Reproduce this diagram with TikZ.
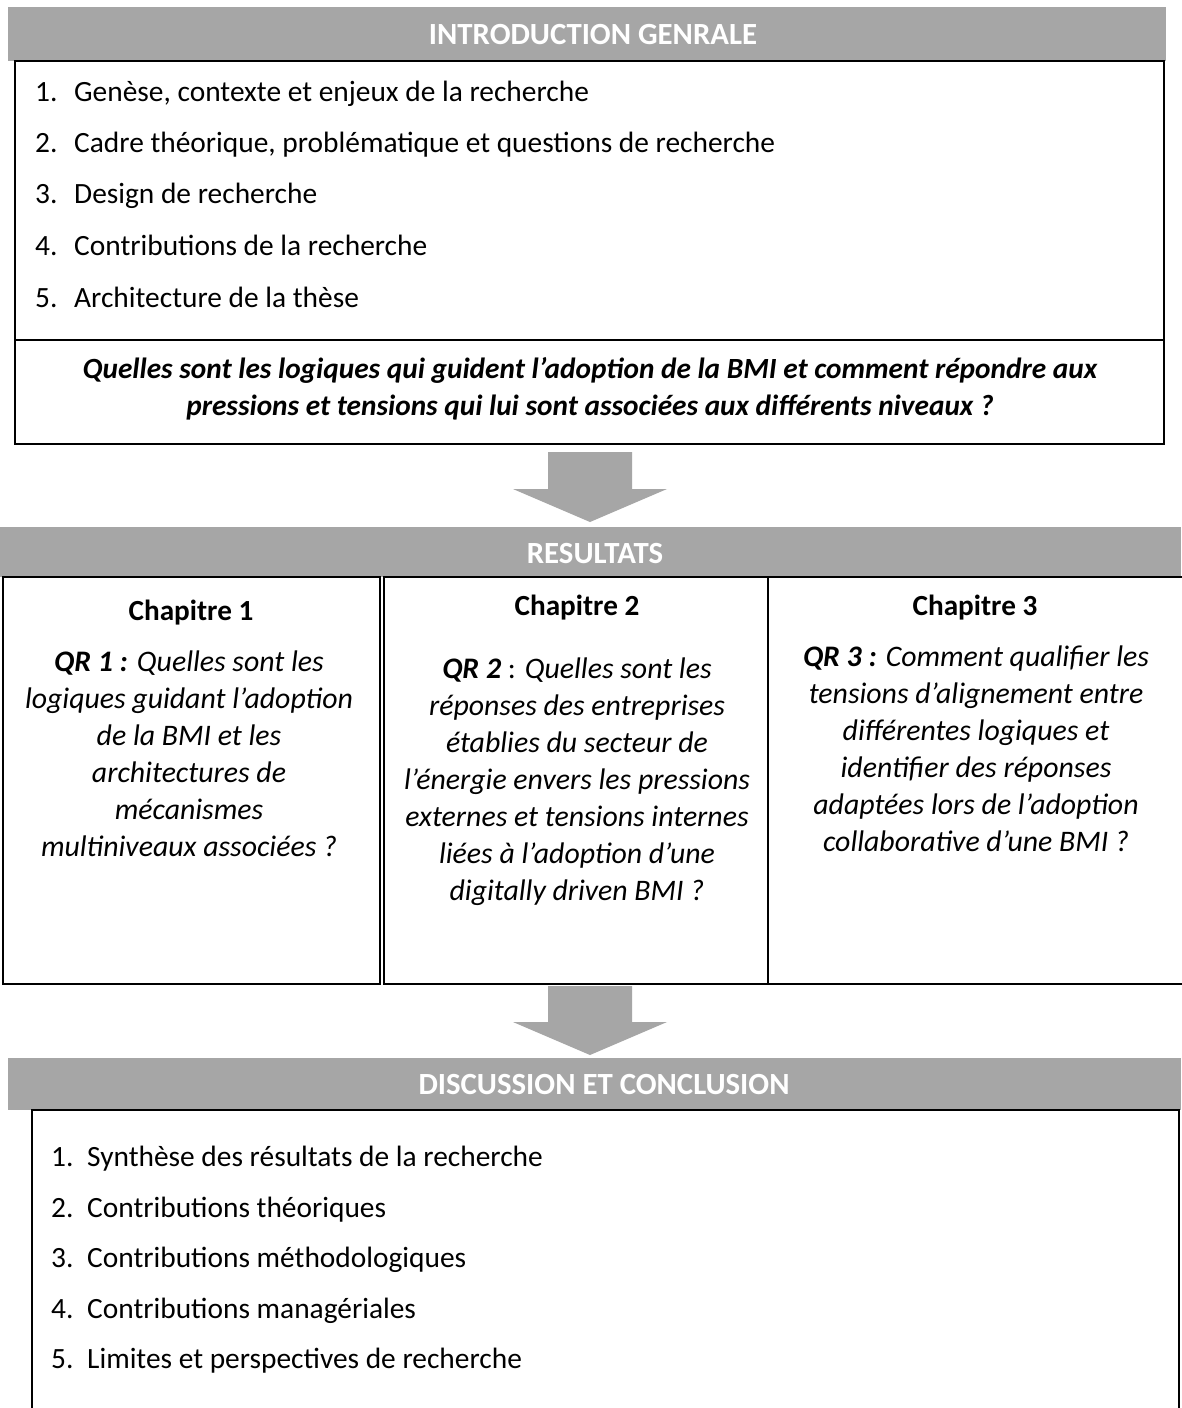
\documentclass[tikz,border=0pt]{standalone}
\usepackage{fontspec}
\setmainfont{Carlito}
\definecolor{bandgray}{HTML}{A6A6A6}
\begin{document}
\begin{tikzpicture}[x=1pt,y=-1pt,
  band/.style={fill=bandgray,draw=none},
  frame/.style={draw=black,line width=2.5pt},
  thinframe/.style={draw=black,line width=2pt},
  blockarrow/.style={fill=bandgray,draw=none},
  hdr/.style={anchor=base,inner sep=0pt,text=white,font=\fontsize{30.8}{36}\selectfont\bfseries},
  item/.style={anchor=base west,inner sep=0pt,font=\fontsize{29.4}{35}\selectfont},
  qline/.style={anchor=base,inner sep=0pt,font=\fontsize{29.3}{35}\selectfont\bfseries\itshape},
  cline/.style={anchor=base,inner sep=0pt,font=\fontsize{29.8}{35}\selectfont\itshape},
  chap/.style={anchor=base,inner sep=0pt,font=\fontsize{29.2}{35}\selectfont\bfseries}]
\useasboundingbox (0,0) rectangle (1181,1408);
\fill[white] (0,0) rectangle (1181,1408);
% ---------- Introduction ----------
\fill[band] (8,7) rectangle (1166,61);
\node[hdr] (h1) at (593,44) {INTRODUCTION GENRALE};
\draw[frame] (15,61) rectangle (1164,444);
\draw[frame] (15,340) -- (1164,340);
\node[item] (i1) at (35,101) {\makebox[39pt][l]{1.}Genèse, contexte et enjeux de la recherche};
\node[item] (i2) at (35,152) {\makebox[39pt][l]{2.}Cadre théorique, problématique et questions de recherche};
\node[item] (i3) at (35,203) {\makebox[39pt][l]{3.}Design de recherche};
\node[item] (i4) at (35,255) {\makebox[39pt][l]{4.}Contributions de la recherche};
\node[item] (i5) at (35,307) {\makebox[39pt][l]{5.}Architecture de la thèse};
\node[qline] (q1) at (590,378) {Quelles sont les logiques qui guident l’adoption de la BMI et comment répondre aux};
\node[qline] (q2) at (590,415) {pressions et tensions qui lui sont associées aux différents niveaux ?};
% ---------- Arrow 1 ----------
\fill[blockarrow] (548,452) -- (632,452) -- (632,489) -- (667,489) -- (590,522) -- (513,489) -- (548,489) -- cycle;
% ---------- Resultats ----------
\fill[band] (0,527) rectangle (1181,577);
\node[hdr] (h2) at (595,563) {RESULTATS};
\draw[thinframe] (3,577) rectangle (380,984);
\draw[thinframe] (384,577) rectangle (768,984);
\draw[thinframe] (768,577) rectangle (1190,984);
\node[chap] (c1) at (191,620) {Chapitre 1};
\node[chap] (c2) at (577,615) {Chapitre 2};
\node[chap] (c3) at (975,615) {Chapitre 3};
\node[cline] (a1) at (189,671) {\textbf{QR 1 :} Quelles sont les};
\node[cline] (a2) at (189,708) {logiques guidant l’adoption};
\node[cline] (a3) at (189,745) {de la BMI et les};
\node[cline] (a4) at (189,782) {architectures de};
\node[cline] (a5) at (189,819) {mécanismes};
\node[cline] (a6) at (189,856) {multiniveaux associées ?};
\node[cline] (b1) at (577,678) {\textbf{QR 2}\upshape{} : \itshape Quelles sont les};
\node[cline] (b2) at (577,715) {réponses des entreprises};
\node[cline] (b3) at (577,752) {établies du secteur de};
\node[cline] (b4) at (577,789) {l’énergie envers les pressions};
\node[cline] (b5) at (577,826) {externes et tensions internes};
\node[cline] (b6) at (577,863) {liées à l’adoption d’une};
\node[cline] (b7) at (577,900) {digitally driven BMI ?};
\node[cline] (d1) at (976,666) {\textbf{QR 3 :} Comment qualifier les};
\node[cline] (d2) at (976,703) {tensions d’alignement entre};
\node[cline] (d3) at (976,740) {différentes logiques et};
\node[cline] (d4) at (976,777) {identifier des réponses};
\node[cline] (d5) at (976,814) {adaptées lors de l’adoption};
\node[cline] (d6) at (976,851) {collaborative d’une BMI ?};
% ---------- Arrow 2 ----------
\fill[blockarrow] (548,986) -- (632,986) -- (632,1022) -- (667,1022) -- (590,1055) -- (513,1022) -- (548,1022) -- cycle;
% ---------- Discussion ----------
\fill[band] (8,1058) rectangle (1181,1110);
\node[hdr] (h3) at (604,1094) {DISCUSSION ET CONCLUSION};
\draw[frame] (32,1110) rectangle (1179,1430);
\node[item] (e1) at (51,1166) {\makebox[36pt][l]{1.}Synthèse des résultats de la recherche};
\node[item] (e2) at (51,1217) {\makebox[36pt][l]{2.}Contributions théoriques};
\node[item] (e3) at (51,1267) {\makebox[36pt][l]{3.}Contributions méthodologiques};
\node[item] (e4) at (51,1318) {\makebox[36pt][l]{4.}Contributions managériales};
\node[item] (e5) at (51,1368) {\makebox[36pt][l]{5.}Limites et perspectives de recherche};
\end{tikzpicture}
\end{document}
